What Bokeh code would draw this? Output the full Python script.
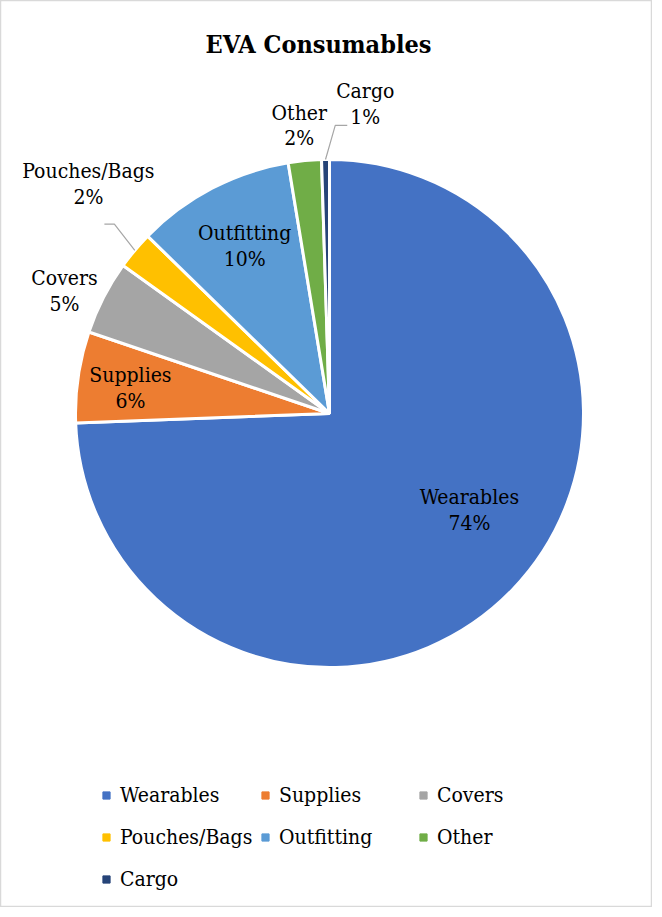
import math
from bokeh.plotting import figure
from bokeh.models import Range1d, Legend, LegendItem, Label, ColumnDataSource
from bokeh.core.properties import value
from bokeh.embed import file_html
from bokeh.resources import INLINE

# ---- data ----
categories = ["Wearables", "Supplies", "Covers", "Pouches/Bags", "Outfitting", "Other", "Cargo"]
shares = [74.4, 5.8, 4.7, 2.4, 10.1, 2.1, 0.5]
colors = ["#4472C4", "#ED7D31", "#A5A5A5", "#FFC000", "#5B9BD5", "#70AD47", "#264478"]
title_text = "EVA Consumables"

# ---- label placement styles ----
label_rf = [0.67, 0.79, 1.15, 1.31, 0.74, 1.14, 1.225]
label_shift = [-9.2, -1.1, -2.3, 3.6, 0.7, -0.4, 7.5]
# leader line style: (start dx, elbow dx, dy) relative to label centre
leader = [None, None, None, (16, 26, -40), None, None, (-18, -30, -21)]

W, H = 652, 907
FONT = "DejaVu Serif Condensed"
cx, cy, R = 329, 494, 254

p = figure(width=W, height=H, output_backend="svg", toolbar_location=None,
           x_range=Range1d(0, W), y_range=Range1d(0, H), min_border=0,
           outline_line_color="#d9d9d9", outline_line_width=1.5)
p.axis.visible = False
p.grid.visible = False

total = sum(shares)
cum = 0.0
starts, ends, mids = [], [], []
for v in shares:
    a0 = cum / total * 360
    cum += v
    a1 = cum / total * 360
    starts.append(math.radians(90 - a0))
    ends.append(math.radians(90 - a1))
    mids.append((a0 + a1) / 2)

src = ColumnDataSource(dict(start=starts, end=ends, color=colors, cat=categories))
p.wedge(x=cx, y=cy, radius=R, start_angle="start", end_angle="end", direction="clock",
        fill_color="color", line_color="white", line_width=3, source=src)

lx, ly, txt = [], [], []
for i, (cat, v) in enumerate(zip(categories, shares)):
    th = math.radians(mids[i] + label_shift[i])
    x = cx + R * label_rf[i] * math.sin(th)
    y = cy + R * label_rf[i] * math.cos(th)
    lx.append(x)
    ly.append(y)
    txt.append(f"{cat}\n{math.floor(v / total * 100 + 0.5)}%")
    if leader[i] is not None:
        d0, d1, dy = leader[i]
        tm = math.radians(mids[i])
        ex = cx + R * math.sin(tm)
        ey = cy + R * math.cos(tm)
        p.line([x + d0, x + d1, ex], [y + dy, y + dy, ey],
               line_color="#a6a6a6", line_width=1.2)

p.text(x=lx, y=ly, text=txt, text_align="center", text_baseline="middle",
       text_font=value(FONT), text_font_size="21px", text_color="black",
       text_line_height=1.08)

p.add_layout(Label(x=W / 2 - 8, y=H - 44, x_units="screen", y_units="screen", text=title_text,
                   text_align="center", text_baseline="middle", text_font=FONT,
                   text_font_size="25px", text_font_style="bold", text_color="black"))

# legend: three columns, items assigned to columns by index
col_x = [97, 256, 414]
for c in range(3):
    items = []
    for i in range(c, len(categories), 3):
        r = p.scatter(x=[-1000], y=[-1000], marker="square", size=7,
                      fill_color=colors[i], line_color=colors[i])
        items.append(LegendItem(label=categories[i], renderers=[r]))
    n = len(items)
    legend = Legend(items=items, location=(col_x[c], 15 + (3 - n) * 42),
                    orientation="vertical",
                    label_text_font=FONT, label_text_font_size="21px",
                    label_text_color="black",
                    glyph_width=18, glyph_height=18, label_standoff=5, spacing=16,
                    label_height=26, border_line_alpha=0, background_fill_alpha=0,
                    padding=0, margin=0)
    p.add_layout(legend)

open("out.html", "w").write(file_html(p, INLINE))
